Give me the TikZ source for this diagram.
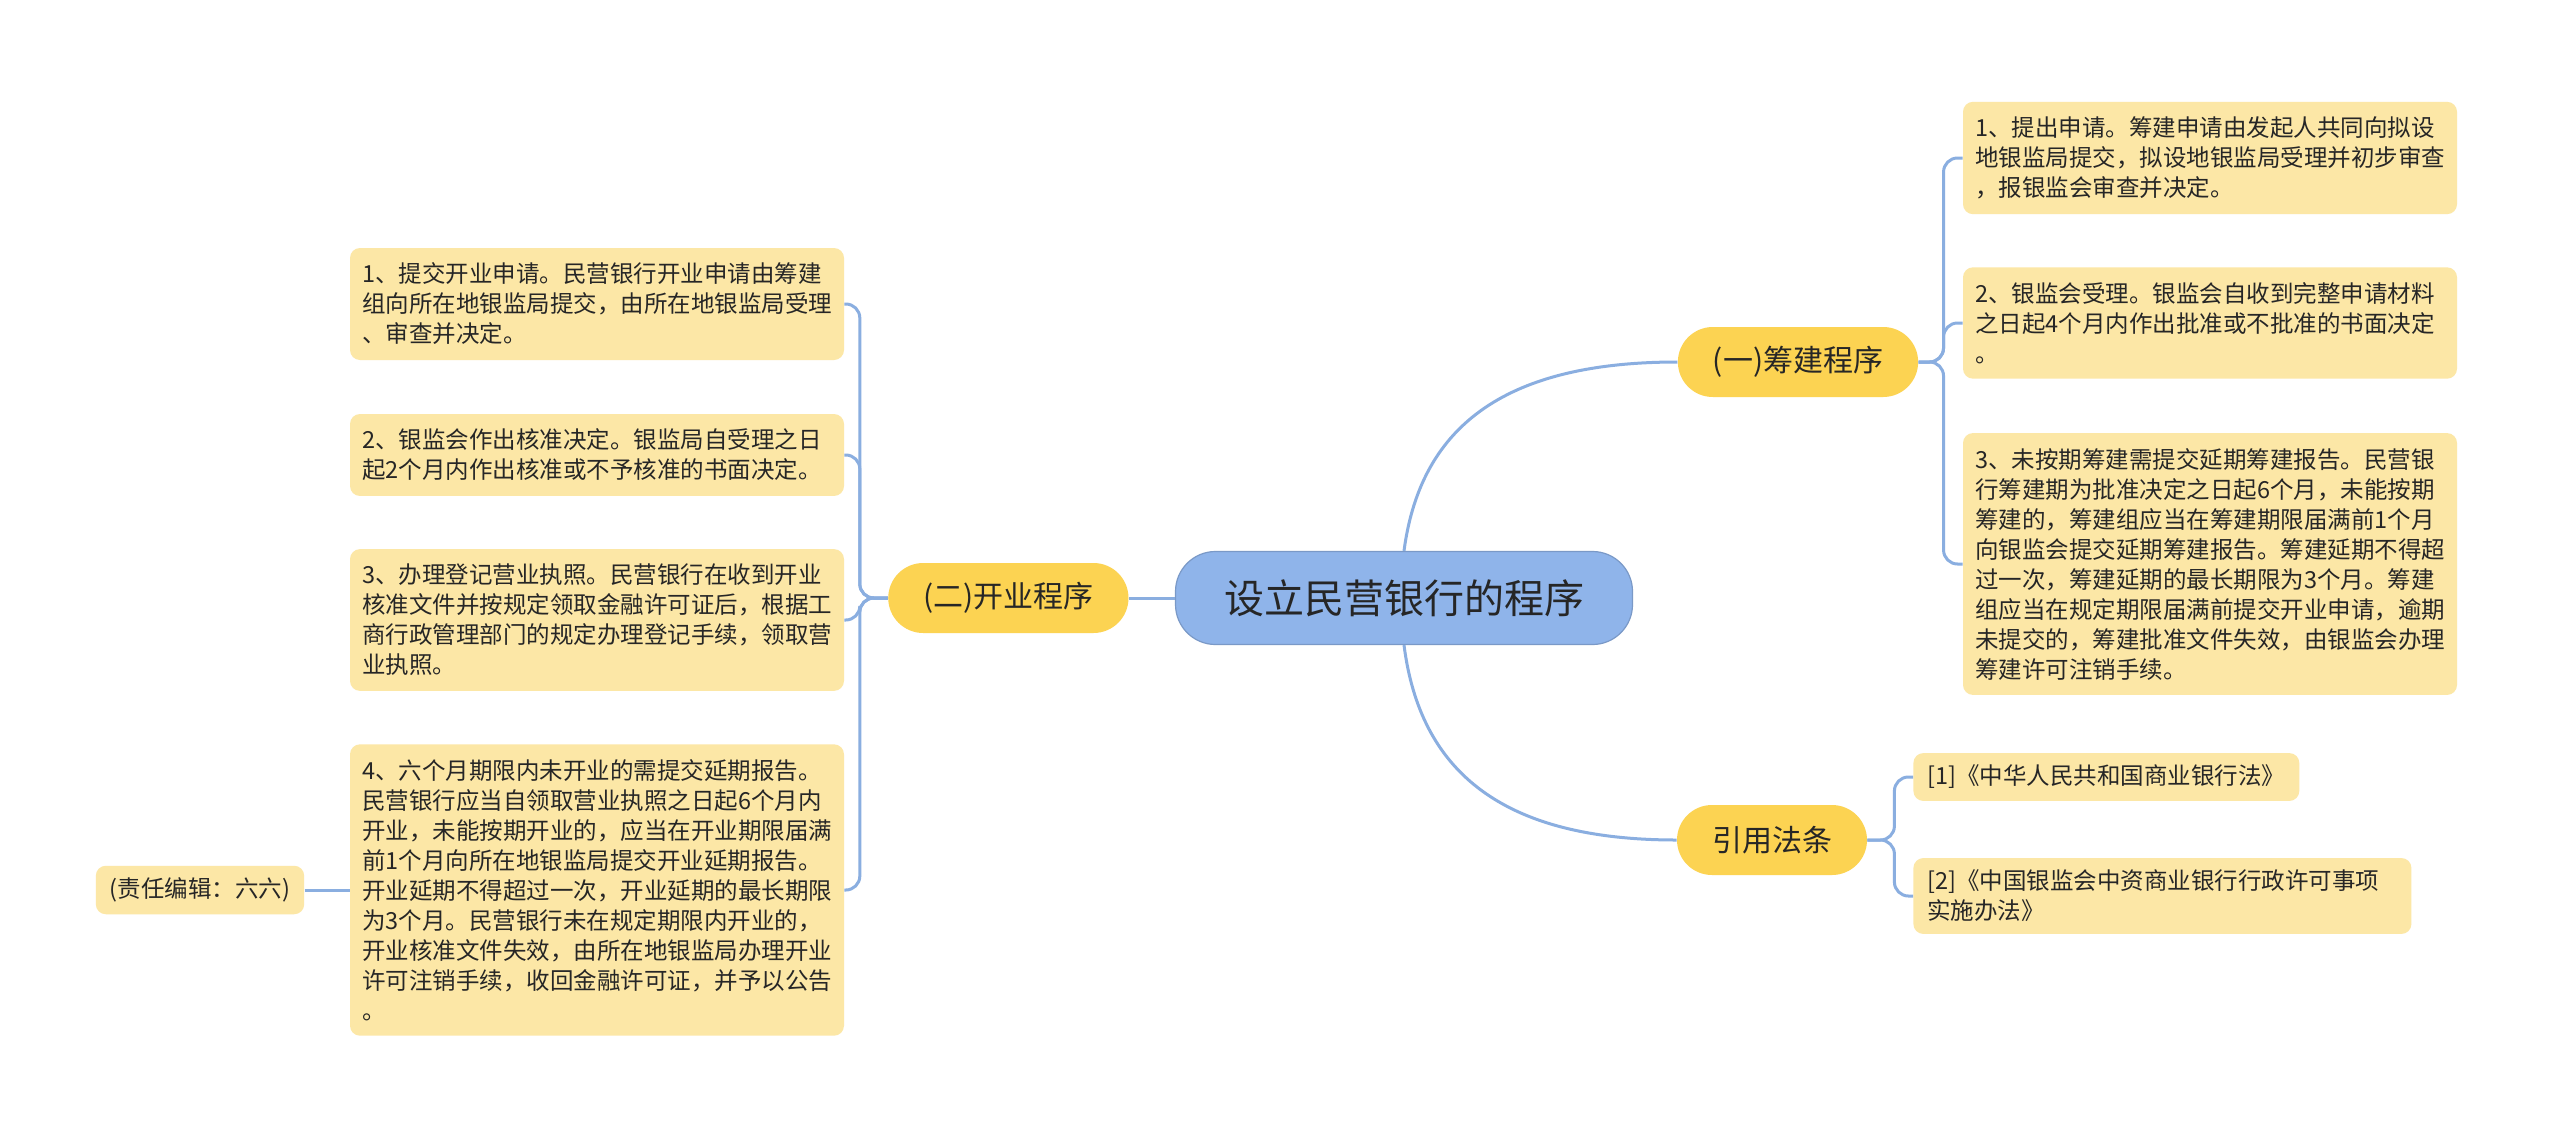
\documentclass[tikz,border=0pt]{standalone}
\usepackage{fontspec}
\setmainfont{Noto Sans CJK SC}
\usepackage{xcolor}
\usetikzlibrary{positioning}

\definecolor{rootc}{HTML}{8FB4EA}
\definecolor{branchc}{HTML}{FCD352}
\definecolor{leafc}{HTML}{FCE7A6}
\definecolor{linec}{HTML}{8AAEE0}
\definecolor{textc}{HTML}{262626}

\begin{document}
\begin{tikzpicture}[
  x=0.5pt, y=-0.5pt,
  every node/.style={text=textc},
  root/.style={draw=rootc!85!black, line width=0.6pt, fill=rootc, rounded corners=20pt,
    minimum width=228.5pt, minimum height=46.5pt, font=\fontsize{20pt}{24pt}\selectfont},
  branch/.style={fill=branchc, rounded corners=17.5pt, minimum height=35pt,
    inner xsep=17.5pt, font=\fontsize{15pt}{18pt}\selectfont},
  leaf/.style={fill=leafc, rounded corners=5pt, text width=235pt, inner xsep=6pt,
    inner ysep=7.5pt, align=left, font=\fontsize{11.75pt}{15pt}\selectfont},
  cite/.style={fill=leafc, rounded corners=5pt, inner xsep=7pt, inner ysep=6pt,
    align=left, font=\fontsize{11.75pt}{15pt}\selectfont},
  link/.style={draw=linec, line width=1.5pt, rounded corners=7pt}
]
  \fill[white] (0,0) rectangle (2560,1141);
  \useasboundingbox (0,0) rectangle (2560,1141);

  % centre and main branches
  \node[root] (root) at (1404,598) {设立民营银行的程序};
  \node[branch, left=23pt of root] (kaiye) {(二)开业程序};
  \node[branch] (choujian) at (1798,362) {(一)筹建程序};
  \node[branch] (fatiao) at (1772,840) {引用法条};

  % (二) 开业程序
  \node[leaf] (k1) at (597,304) {1、提交开业申请。民营银行开业申请由筹建\\组向所在地银监局提交，由所在地银监局受理\\、审查并决定。};
  \node[leaf] (k2) at (597,455) {2、银监会作出核准决定。银监局自受理之日\\起2个月内作出核准或不予核准的书面决定。};
  \node[leaf] (k3) at (597,620) {3、办理登记营业执照。民营银行在收到开业\\核准文件并按规定领取金融许可证后，根据工\\商行政管理部门的规定办理登记手续，领取营\\业执照。};
  \node[leaf] (k4) at (597,890) {4、六个月期限内未开业的需提交延期报告。\\民营银行应当自领取营业执照之日起6个月内\\开业，未能按期开业的，应当在开业期限届满\\前1个月向所在地银监局提交开业延期报告。\\开业延期不得超过一次，开业延期的最长期限\\为3个月。民营银行未在规定期限内开业的，\\开业核准文件失效，由所在地银监局办理开业\\许可注销手续，收回金融许可证，并予以公告\\。};
  \node[cite, left=22.5pt of k4] (editor) {(责任编辑：六六)};

  % (一) 筹建程序
  \node[leaf] (c1) at (2210,158) {1、提出申请。筹建申请由发起人共同向拟设\\地银监局提交，拟设地银监局受理并初步审查\\，报银监会审查并决定。};
  \node[leaf] (c2) at (2210,323) {2、银监会受理。银监会自收到完整申请材料\\之日起4个月内作出批准或不批准的书面决定\\。};
  \node[leaf] (c3) at (2210,564) {3、未按期筹建需提交延期筹建报告。民营银\\行筹建期为批准决定之日起6个月，未能按期\\筹建的，筹建组应当在筹建期限届满前1个月\\向银监会提交延期筹建报告。筹建延期不得超\\过一次，筹建延期的最长期限为3个月。筹建\\组应当在规定期限届满前提交开业申请，逾期\\未提交的，筹建批准文件失效，由银监会办理\\筹建许可注销手续。};

  % 引用法条
  \node[cite, anchor=west] (f1) at (1913,777) {[1]《中华人民共和国商业银行法》};
  \node[leaf, inner xsep=7pt, inner ysep=6pt, anchor=west] (f2) at (1913,896) {[2]《中国银监会中资商业银行行政许可事项\\实施办法》};

  % connectors
  \draw[link] (root) -- (kaiye);
  \draw[link] (root.north) .. controls (1420,430) and (1500,362) .. (choujian.west);
  \draw[link] (root.south) .. controls (1420,770) and (1500,840) .. (fatiao.west);
  \foreach \n in {k1,k2,k3,k4}
    \draw[link] (kaiye.west) -- ++(-28,0) |- (\n.east);
  \foreach \n in {c1,c2,c3}
    \draw[link] (choujian.east) -- ++(25,0) |- (\n.west);
  \foreach \n in {f1,f2}
    \draw[link] (fatiao.east) -- ++(27,0) |- (\n.west);
  \draw[link] (editor) -- (k4);
\end{tikzpicture}
\end{document}
